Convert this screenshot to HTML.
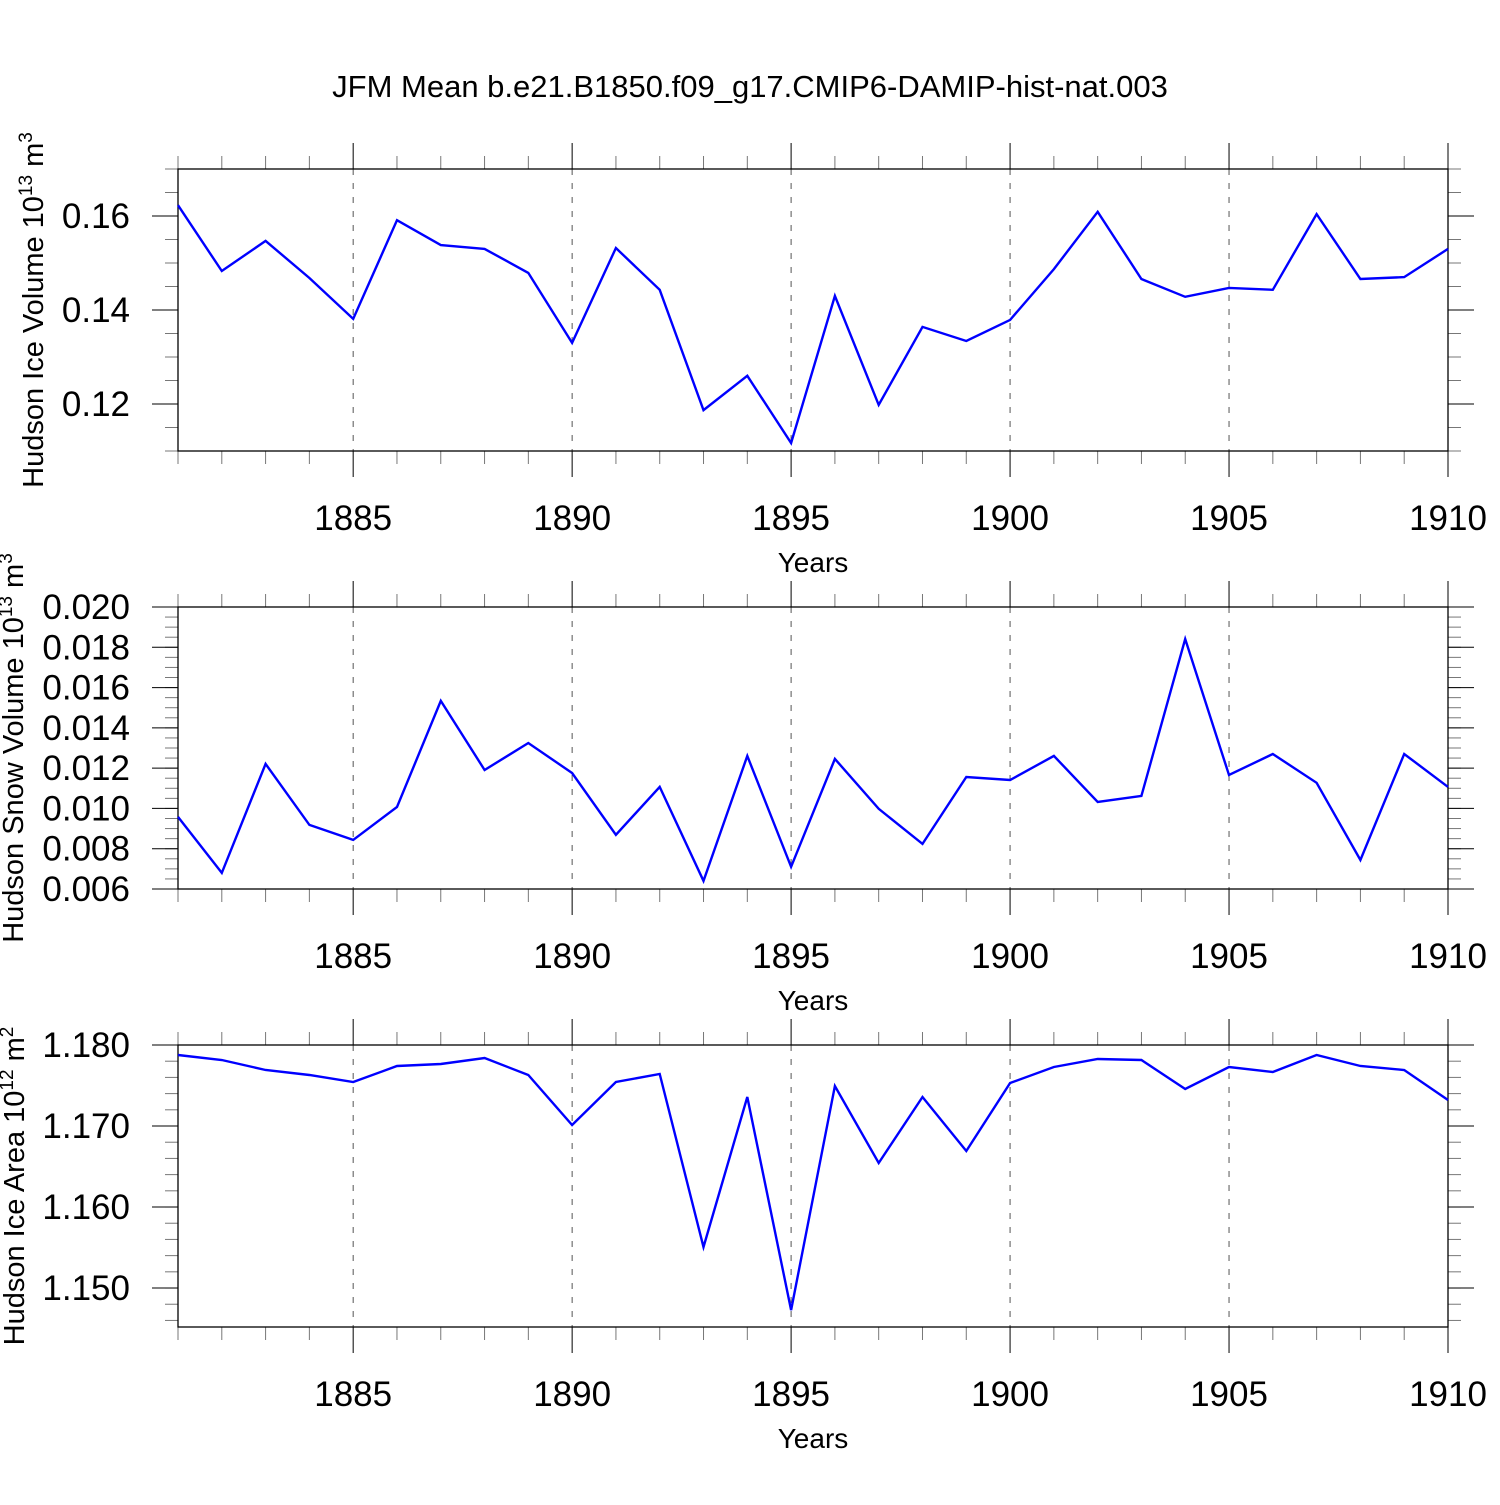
<!DOCTYPE html>
<html><head><meta charset="utf-8"><style>
body{margin:0;background:#fff}
svg text{font-family:"Liberation Sans",sans-serif;fill:#000}
</style></head><body>
<svg id="c" width="1500" height="1500" xmlns="http://www.w3.org/2000/svg">
<text x="750" y="97" font-size="31" text-anchor="middle">JFM Mean b.e21.B1850.f09_g17.CMIP6-DAMIP-hist-nat.003</text>
</svg>
<script>
const years=[1881,1882,1883,1884,1885,1886,1887,1888,1889,1890,1891,1892,1893,1894,1895,1896,1897,1898,1899,1900,1901,1902,1903,1904,1905,1906,1907,1908,1909,1910];
const iceVolume=[0.1623,0.1483,0.1547,0.1468,0.1381,0.1591,0.1538,0.1530,0.1479,0.1330,0.1532,0.1443,0.1187,0.1260,0.1117,0.1430,0.1198,0.1364,0.1334,0.1379,0.1487,0.1609,0.1466,0.1428,0.1447,0.1443,0.1604,0.1466,0.1470,0.1530];
const snowVolume=[0.00958,0.00680,0.01221,0.00918,0.00844,0.01007,0.01534,0.01191,0.01325,0.01176,0.00869,0.01107,0.00640,0.01261,0.00710,0.01246,0.00998,0.00824,0.01156,0.01141,0.01261,0.01032,0.01062,0.01841,0.01166,0.01270,0.01127,0.00744,0.01270,0.01107];
const iceArea=[1.17877,1.17815,1.17691,1.17630,1.17543,1.17741,1.17765,1.17840,1.17630,1.17012,1.17543,1.17642,1.15506,1.17358,1.14728,1.17494,1.16543,1.17358,1.16691,1.17531,1.17728,1.17827,1.17815,1.17457,1.17728,1.17667,1.17877,1.17741,1.17691,1.17321];
const xTickYears=[1885,1890,1895,1900,1905,1910];
const p1Ticks=["0.12","0.14","0.16"];
const p2Ticks=["0.006","0.008","0.010","0.012","0.014","0.016","0.018","0.020"];
const p3Ticks=["1.150","1.160","1.170","1.180"];
const NS="http://www.w3.org/2000/svg";
const svg=document.getElementById('c');
const X0=178,X1=1448,YR0=1881,YR1=1910;
function xs(v){return X0+(v-YR0)/(YR1-YR0)*(X1-X0);}
function el(t,a){const e=document.createElementNS(NS,t);for(const k in a)e.setAttribute(k,a[k]);svg.appendChild(e);return e;}
const panels=[
 {top:169,bot:451,min:0.11,max:0.17,minor:0.005,ticks:p1Ticks,data:iceVolume,lab:"Hudson Ice Volume 10",sup:"13",unit:" m",usup:"3",name:"ice-volume",tx:43},
 {top:607,bot:889,min:0.006,max:0.020,minor:0.0005,ticks:p2Ticks,data:snowVolume,lab:"Hudson Snow Volume 10",sup:"13",unit:" m",usup:"3",name:"snow-volume",tx:23},
 {top:1045,bot:1327,min:1.14519,max:1.180,minor:0.002,ticks:p3Ticks,data:iceArea,lab:"Hudson Ice Area 10",sup:"12",unit:" m",usup:"2",name:"ice-area",tx:24}
];
panels.forEach(p=>{
 const ys=v=>p.bot-(v-p.min)/(p.max-p.min)*(p.bot-p.top);
 xTickYears.forEach(y=>{if(y<YR1){const l=el('line',{x1:xs(y),x2:xs(y),y1:p.top,y2:p.bot,stroke:'#555','stroke-width':1,'stroke-dasharray':'6,8'});
 
 }});
 years.forEach(y=>{const maj=xTickYears.includes(y);const len=maj?26:13;
  el('line',{x1:xs(y),x2:xs(y),y1:p.top-len,y2:p.top,stroke:maj?'#000':'#777','stroke-width':1});
  el('line',{x1:xs(y),x2:xs(y),y1:p.bot,y2:p.bot+len,stroke:maj?'#000':'#777','stroke-width':1});});
 xTickYears.forEach(y=>{const t=el('text',{x:xs(y),y:p.bot+79,'font-size':35,'text-anchor':'middle'});t.textContent=y;
  
  });
 const xt=el('text',{x:813,y:p.bot+121,'font-size':28,'text-anchor':'middle'});xt.textContent="Years";
 
 
 for(let v=Math.ceil(p.min/p.minor-1e-6)*p.minor;v<=p.max+1e-9;v+=p.minor){const yy=ys(v);
  el('line',{x1:X0-13,x2:X0,y1:yy,y2:yy,stroke:'#777','stroke-width':1});
  el('line',{x1:X1,x2:X1+13,y1:yy,y2:yy,stroke:'#777','stroke-width':1});}
 p.ticks.forEach(s=>{const yy=ys(parseFloat(s));
  el('line',{x1:X0-26,x2:X0,y1:yy,y2:yy,stroke:'#000','stroke-width':1});
  el('line',{x1:X1,x2:X1+26,y1:yy,y2:yy,stroke:'#000','stroke-width':1});
  const t=el('text',{x:X0-48,y:yy+12,'font-size':35,'text-anchor':'end'});t.textContent=s;
  
  });
 const r=el('rect',{x:X0,y:p.top,width:X1-X0,height:p.bot-p.top,fill:'none',stroke:'#000','stroke-width':1.3});
 
 
 const pts=p.data.map((v,i)=>xs(years[i]).toFixed(1)+','+ys(v).toFixed(1)).join(' ');
 const pl=el('polyline',{points:pts,fill:'none',stroke:'#0000ff','stroke-width':2.4});
 
 
 const cy=(p.top+p.bot)/2;
 const yt=el('text',{x:0,y:0,'font-size':29,'text-anchor':'middle',transform:`translate(${p.tx},${cy}) rotate(-90)`});
 yt.innerHTML=p.lab+'<tspan dy="-11" font-size="19">'+p.sup+'</tspan><tspan dy="11">'+p.unit+'</tspan><tspan dy="-11" font-size="19">'+p.usup+'</tspan>';
 
 
});
</script>
</body></html>
